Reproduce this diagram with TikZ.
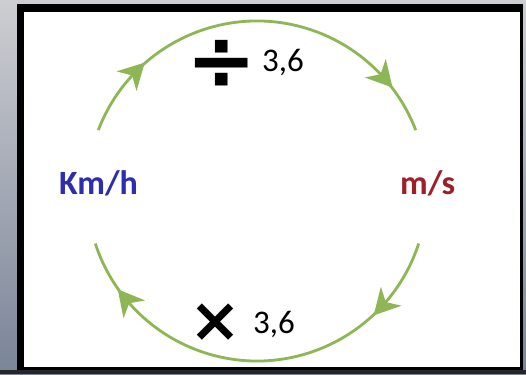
\documentclass[tikz,border=0pt]{standalone}
\usepackage{fontspec}
\setmainfont{Carlito}
\newfontfamily\symfont{DejaVu Sans}
\usepackage{tikz}
\usetikzlibrary{positioning,arrows.meta,calc,decorations.markings}
\definecolor{arcgreen}{RGB}{141,182,84}
\definecolor{kmhblue}{RGB}{45,45,175}
\definecolor{msred}{RGB}{155,32,42}
\definecolor{bgtop}{RGB}{205,206,210}
\definecolor{bgbot}{RGB}{122,132,152}
\newcommand{\flowtip}{\fill[arcgreen] (13pt,0pt) -- (-13pt,14pt) -- (-5pt,0pt) -- (-13pt,-14pt) -- cycle;}
\tikzset{
  arcflow/.style={draw=arcgreen, line width=2.8pt, postaction={decorate},
    decoration={markings,
      mark=at position 0.17 with {\flowtip},
      mark=at position 0.85 with {\flowtip}}},
  unitlabel/.style={font=\fontsize{34}{34}\selectfont\bfseries, anchor=base west, inner sep=0pt},
  factor/.style={font=\fontsize{33}{33}\selectfont, anchor=base west, inner sep=0pt},
  opsym/.style={font=\symfont\fontsize{62}{62}\selectfont\bfseries, inner sep=0pt}
}

\begin{document}
\begin{tikzpicture}[x=1pt, y=1pt]
  % background and frame
  \shade[top color=bgtop, bottom color=bgbot] (0,0) rectangle (526,374);
  \fill[black!85] (0,0) rectangle (526,4);
  \fill[black] (17,4) rectangle (523,370);
  \fill[white] (24,7) rectangle (520,362);
  \useasboundingbox (0,0) rectangle (526,374);

  \coordinate (c) at (257,183);
  \coordinate (topstart) at ($(c)+(159:170)$);
  \coordinate (botstart) at ($(c)+(-18:170)$);

  \node[unitlabel, text=kmhblue] (kmh) at (59,179) {Km/h};
  \node[unitlabel, text=msred] (ms) at (400,179) {m/s};

  \node[opsym, font=\symfont\fontsize{84}{84}\selectfont\bfseries] (div) at (222,309) {÷};
  \node[factor] (divval) at (262,302) {3,6};
  \node[opsym] (mul) at (215,51) {×};
  \node[factor] (mulval) at (253,41) {3,6};

  \draw[arcflow] (topstart) arc[start angle=159, end angle=21, radius=170];
  \draw[arcflow] (botstart) arc[start angle=-18, end angle=-162, radius=170];
\end{tikzpicture}
\end{document}
